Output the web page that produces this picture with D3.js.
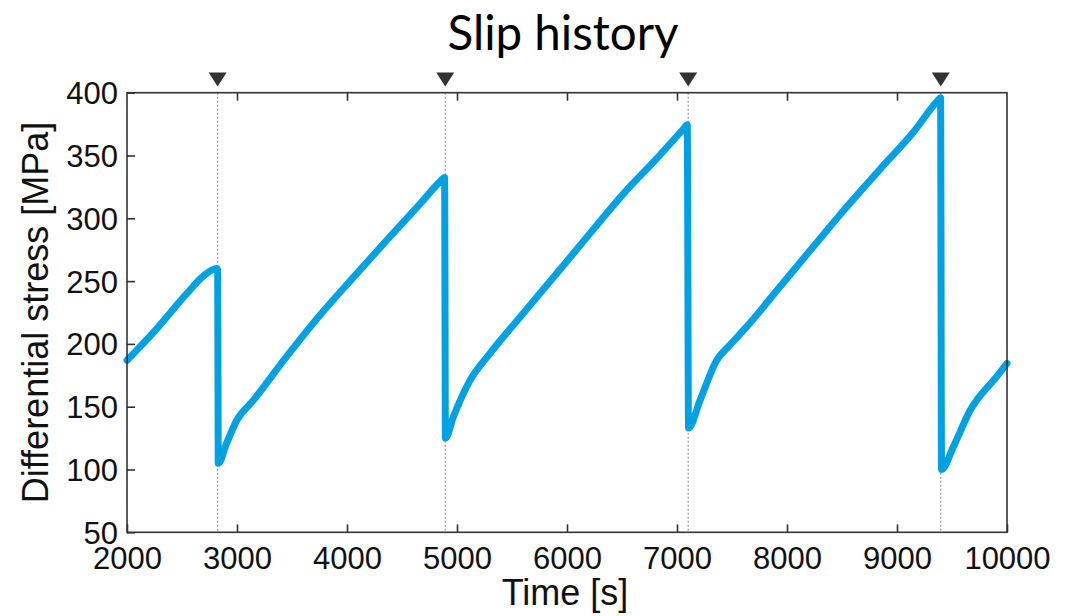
<!DOCTYPE html>
<html>
<head>
<meta charset="utf-8">
<script src="https://cdn.jsdelivr.net/npm/d3@7"></script>
<style>
  html, body { margin: 0; padding: 0; background: #fff; }
  svg { display: block; }
</style>
</head>
<body>
<svg id="chart" width="1068" height="616"></svg>
<script>
// Stress record: time [s] and differential stress [MPa]
const timeS = [2000, 2239, 2543, 2694, 2780, 2815, 2824, 2830, 2906, 2997, 3148, 3452, 3755, 4058, 4361, 4664, 4855, 4887, 4895, 4967, 5118, 5300, 5603, 5906, 6209, 6512, 6815, 7062, 7093, 7105, 7209, 7361, 7480, 7634, 7936, 8239, 8542, 8845, 9148, 9368, 9396, 9405, 9512, 9664, 9906, 10000];
const stressMPa = [187, 209, 240, 254, 259, 260, 259, 105, 121, 139, 155, 190, 223, 253, 282.5, 311.5, 330, 332.5, 125, 142, 171, 192.5, 224.4, 256, 288, 319.5, 347.5, 371.5, 374.5, 133, 155, 187, 199, 213.7, 245.5, 277.4, 309, 339, 368.5, 393.5, 396, 100, 118, 147, 174, 184.5];

// Slip events marked above the plot
const slipTimes = [2824, 4893, 7102, 9398];

const xTicks = [2000, 3000, 4000, 5000, 6000, 7000, 8000, 9000, 10000];
const yTicks = [50, 100, 150, 200, 250, 300, 350, 400];

const svg = d3.select("#chart");
const plotLeft = 127, plotRight = 1007, plotTop = 92.7, plotBottom = 532.3;

const x = d3.scaleLinear().domain([2000, 10000]).range([plotLeft, plotRight]);
const y = d3.scaleLinear().domain([50, 400]).range([plotBottom, plotTop]);

const axisColor = "#333";
const font = "'Liberation Sans', Arial, Helvetica, sans-serif";

// Slip markers: dotted verticals
svg.append("g").selectAll("line").data(slipTimes).join("line")
  .attr("x1", d => x(d)).attr("x2", d => x(d))
  .attr("y1", plotTop).attr("y2", plotBottom)
  .attr("stroke", "#999").attr("stroke-width", 1.2)
  .attr("stroke-dasharray", "2,2");

// Stress curve
const line = d3.line()
  .x((d, i) => x(timeS[i]))
  .y((d, i) => y(stressMPa[i]))
  .curve(d3.curveMonotoneX);
svg.append("path")
  .datum(stressMPa)
  .attr("d", line)
  .attr("fill", "none")
  .attr("stroke", "#00a1e3")
  .attr("stroke-width", 7)
  .attr("stroke-linejoin", "round")
  .attr("stroke-linecap", "round");

// Axis box
svg.append("rect")
  .attr("x", plotLeft).attr("y", plotTop)
  .attr("width", plotRight - plotLeft).attr("height", plotBottom - plotTop)
  .attr("fill", "none").attr("stroke", axisColor).attr("stroke-width", 1.6);

// Bottom axis (ticks inward)
const xAxis = d3.axisBottom(x).tickValues(xTicks).tickSize(-8).tickPadding(0).tickFormat(d3.format("d"));
const gx = svg.append("g").attr("transform", `translate(0,${plotBottom})`).call(xAxis);
gx.select(".domain").remove();
gx.selectAll(".tick line").attr("stroke", axisColor).attr("stroke-width", 1.6);
gx.selectAll(".tick text").attr("fill", "#111")
  .attr("y", 37).attr("dy", null)
  .style("font-family", font).style("font-size", "31px");

// Top axis ticks only
const xTop = d3.axisTop(x).tickValues(xTicks.slice(1, -1)).tickSize(-8).tickFormat("");
const gxt = svg.append("g").attr("transform", `translate(0,${plotTop})`).call(xTop);
gxt.select(".domain").remove();
gxt.selectAll(".tick line").attr("stroke", axisColor).attr("stroke-width", 1.6);

// Left axis (ticks inward)
const yAxis = d3.axisLeft(y).tickValues(yTicks).tickSize(-8).tickPadding(9);
const gy = svg.append("g").attr("transform", `translate(${plotLeft},0)`).call(yAxis);
gy.select(".domain").remove();
gy.selectAll(".tick line").attr("stroke", axisColor).attr("stroke-width", 1.6);
gy.selectAll(".tick text").attr("fill", "#111")
  .attr("dy", null).attr("y", 11)
  .style("font-family", font).style("font-size", "31px");

// Slip triangles
svg.append("g").selectAll("path").data(slipTimes).join("path")
  .attr("d", d => {
    const cx = x(d);
    return `M${cx - 9},72.5 L${cx + 9},72.5 L${cx},86.5 Z`;
  })
  .attr("fill", "#333");

// Axis titles
svg.append("text")
  .attr("x", 565).attr("y", 605)
  .attr("text-anchor", "middle")
  .style("font-family", font).style("font-size", "36px").attr("fill", "#111")
  .text("Time [s]");

svg.append("text")
  .attr("transform", `translate(48,${(plotTop + plotBottom) / 2}) rotate(-90)`)
  .attr("text-anchor", "middle")
  .style("font-family", font).style("font-size", "36px").attr("fill", "#111")
  .text("Differential stress [MPa]");

// Title
svg.append("text")
  .attr("x", 563).attr("y", 50)
  .attr("text-anchor", "middle")
  .style("font-family", "Lato, 'Open Sans', sans-serif").style("font-size", "47.5px").attr("fill", "#000")
  .text("Slip history");
</script>
</body>
</html>
